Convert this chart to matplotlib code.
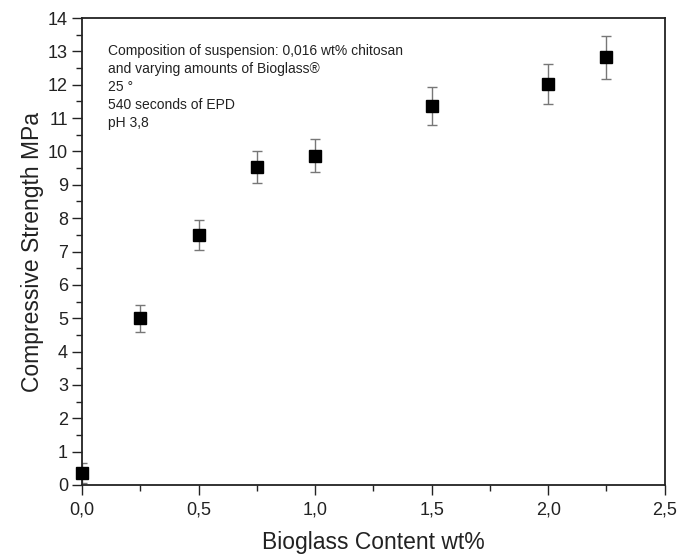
import numpy as np
import matplotlib
matplotlib.use("Agg")
import matplotlib.pyplot as plt
from matplotlib.ticker import MultipleLocator, FuncFormatter

plt.rcParams['font.family'] = ['Liberation Sans', 'DejaVu Sans']

# data
content = [0.0, 0.25, 0.5, 0.75, 1.0, 1.5, 2.0, 2.25]
strength = [0.37, 5.0, 7.5, 9.52, 9.87, 11.35, 12.02, 12.82]
err = [0.3, 0.4, 0.45, 0.48, 0.49, 0.57, 0.6, 0.64]

note = ["Composition of suspension: 0,016 wt% chitosan",
        "and varying amounts of Bioglass\u00ae",
        "25 \u00b0",
        "540 seconds of EPD",
        "pH 3,8"]

fig = plt.figure(figsize=(6.86, 5.56), dpi=100)
ax = fig.add_axes([0.1195, 0.1277, 0.8495, 0.8399])

ax.errorbar(content, strength, yerr=err, fmt='none', ecolor='#777777',
            elinewidth=1, capsize=3.5, capthick=1, zorder=2)
ax.plot(content, strength, 's', color='black', ms=8.5, zorder=3, clip_on=False)

ax.set_xlim(0, 2.5)
ax.set_ylim(0, 14)
ax.xaxis.set_major_locator(MultipleLocator(0.5))
ax.xaxis.set_minor_locator(MultipleLocator(0.25))
ax.yaxis.set_major_locator(MultipleLocator(1))
ax.yaxis.set_minor_locator(MultipleLocator(0.5))
ax.xaxis.set_major_formatter(FuncFormatter(lambda v, p: f"{v:.1f}".replace('.', ',')))

ax.tick_params(which='major', direction='out', length=7, width=1, labelsize=13, colors='#222222')
ax.tick_params(which='minor', direction='out', length=4, width=1, colors='#222222')
ax.tick_params(axis='x', which='major', pad=5)
ax.tick_params(axis='y', which='major', pad=3)
ax.tick_params(top=False, right=False)
for s in ax.spines.values():
    s.set_linewidth(1.3)
    s.set_color('#222222')

ax.set_xlabel("Bioglass Content wt%", fontsize=16.5, labelpad=9, color='#222222')
ax.set_ylabel("Compressive Strength MPa", fontsize=16.5, labelpad=3, color='#222222')

ax.text(0.044, 0.945, "\n".join(note), transform=ax.transAxes, fontsize=10,
        va='top', ha='left', linespacing=1.37, color='#222222')

fig.savefig("out.png", dpi=100)
